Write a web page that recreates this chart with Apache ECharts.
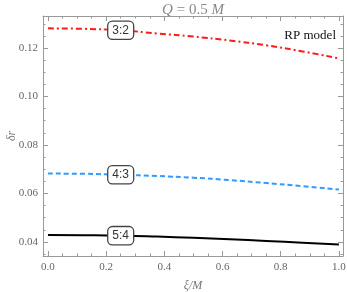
<!DOCTYPE html>
<html><head><meta charset="utf-8">
<script src="https://cdn.jsdelivr.net/npm/echarts@6/dist/echarts.min.js"></script>
<style>html,body{margin:0;padding:0;background:#fff}#c{width:347px;height:292px}</style>
</head><body><div id="c"></div>
<script>
const xi = [0, 0.125, 0.25, 0.375, 0.5, 0.625, 0.75, 0.875, 1.0];
const res32 = [0.1281, 0.1279, 0.1273, 0.1260, 0.1247, 0.1231, 0.1211, 0.1186, 0.1157];
const res43 = [0.0682, 0.0681, 0.0677, 0.0672, 0.0665, 0.0655, 0.0643, 0.0630, 0.0616];
const res54 = [0.0429, 0.0428, 0.0426, 0.0422, 0.0417, 0.0411, 0.0404, 0.0397, 0.0389];
const seriesNames = ['3:2', '4:3', '5:4'];
const labelIndex = 2;
const xTicks = [0, 0.2, 0.4, 0.6, 0.8, 1.0];
const yTicks = [0.04, 0.06, 0.08, 0.10, 0.12];
const xRange = [-0.017, 1.014];
const yRange = [0.0342, 0.1332];

const xMinor = [], yMinor = [];
for (let i = 0; i <= 20; i++) { if (i % 4) xMinor.push(+(i * 0.05).toFixed(3)); }
for (let i = 7; i <= 26; i++) { if (i % 4) yMinor.push(+(i * 0.005).toFixed(4)); }

const gray = '#999';
const labelFont = {fontFamily: 'Liberation Serif', fontSize: 11, color: '#666'};
function xAx(pos, vals, len, labels, line) {
  return {type: 'value', position: pos, min: xRange[0], max: xRange[1],
    axisLine: {show: line, onZero: false, lineStyle: {color: gray, width: 1}},
    axisTick: {show: true, inside: true, length: len, customValues: vals, lineStyle: {color: gray}},
    axisLabel: labels ? Object.assign({show: true, customValues: vals, margin: 6, formatter: v => v.toFixed(1)}, labelFont) : {show: false},
    splitLine: {show: false}};
}
function yAx(pos, vals, len, labels, line) {
  return {type: 'value', position: pos, min: yRange[0], max: yRange[1],
    axisLine: {show: line, onZero: false, lineStyle: {color: gray, width: 1}},
    axisTick: {show: true, inside: true, length: len, customValues: vals, lineStyle: {color: gray}},
    axisLabel: labels ? Object.assign({show: true, customValues: vals, margin: 5, formatter: v => v.toFixed(2)}, labelFont) : {show: false},
    splitLine: {show: false}};
}
const xAxes = [xAx('bottom', xTicks, 5, true, true), xAx('bottom', xMinor, 2.5, false, false),
  xAx('top', xTicks, 5, false, true), xAx('top', xMinor, 2.5, false, false)];
xAxes[0].name = 'ξ/M'; xAxes[0].nameLocation = 'middle'; xAxes[0].nameGap = 24;
xAxes[0].nameTextStyle = {fontFamily: 'Liberation Serif', fontStyle: 'italic', fontSize: 12, color: '#777'};
const yAxes = [yAx('left', yTicks, 5, true, true), yAx('left', yMinor, 2.5, false, false),
  yAx('right', yTicks, 5, false, true), yAx('right', yMinor, 2.5, false, false)];

function mk(name, vals, color, type) {
  return {type: 'line', name: name, data: xi.map((x, i) => [x, vals[i]]), smooth: true, showSymbol: false,
    xAxisIndex: 0, yAxisIndex: 0, z: 2,
    lineStyle: {color: color, width: 2, type: type},
    markPoint: {symbol: 'rect', symbolSize: 0, silent: true, animation: false,
      data: [{coord: [xi[labelIndex], vals[labelIndex]]}],
      label: {show: true, position: 'inside', formatter: name, fontFamily: 'Liberation Sans', fontSize: 12, color: '#333',
        backgroundColor: '#fff', borderColor: '#444', borderWidth: 1.3, borderRadius: 4, padding: [3, 4, 2, 4]}}};
}

const chart = echarts.init(document.getElementById('c'), null, {renderer: 'canvas'});
chart.setOption({
  animation: false,
  grid: {left: 43, top: 16, right: 4, bottom: 36, containLabel: false, outerBoundsMode: 'none'},
  xAxis: xAxes, yAxis: yAxes,
  graphic: [
    {type: 'text', x: 193, y: 3, style: {text: '{i|Q} = 0.5 {i|M}', align: 'center', fill: '#888',
      font: '15px "Liberation Serif"', rich: {i: {fontStyle: 'italic', fontFamily: 'Liberation Serif', fontSize: 15, fill: '#888'}}}},
    {type: 'text', x: 12, y: 136, rotation: Math.PI / 2, style: {text: 'δr', align: 'center', verticalAlign: 'middle',
      fill: '#777', font: 'italic 12px "Liberation Serif"'}},
    {type: 'text', right: 11, top: 29, style: {text: 'RP model', fill: '#111', font: '13px "Liberation Serif"'}}
  ],
  series: [
    mk(seriesNames[0], res32, '#ff1a1a', [6, 3, 2, 3]),
    mk(seriesNames[1], res43, '#3399ff', [5, 3]),
    mk(seriesNames[2], res54, '#000000', 'solid')
  ]
});
</script></body></html>
